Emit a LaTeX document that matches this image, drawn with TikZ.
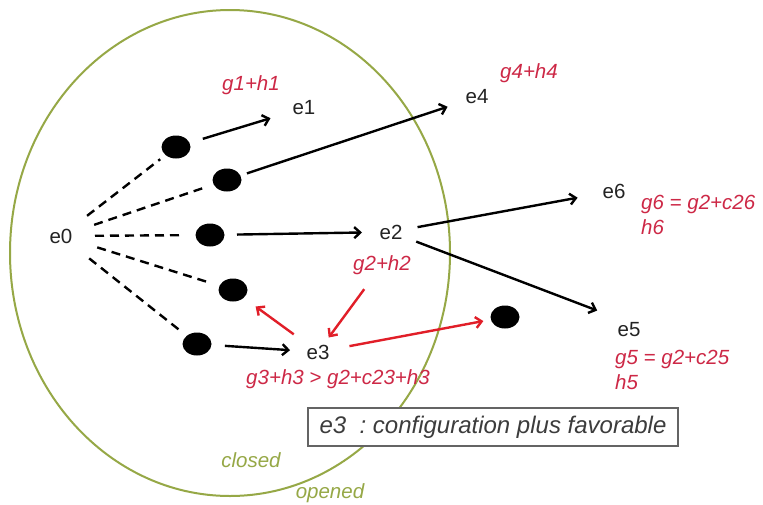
\documentclass[tikz,border=0pt]{standalone}
\usepackage{fontspec}
\setmainfont{Liberation Sans}
\usetikzlibrary{shapes.geometric,arrows.meta,calc}
\definecolor{redtxt}{RGB}{205,40,70}
\definecolor{redarr}{RGB}{225,30,40}
\definecolor{olv}{RGB}{150,168,70}
\definecolor{txt}{RGB}{35,35,35}
\definecolor{boxtxt}{RGB}{60,60,60}
\begin{document}
\begin{tikzpicture}[x=1pt,y=-1pt,
  lab/.style={font=\fontsize{20.5}{25}\selectfont, text=txt, inner sep=0pt},
  rlab/.style={font=\fontsize{20.5}{25}\selectfont\itshape, text=redtxt, inner sep=0pt},
  glab/.style={font=\fontsize{20.5}{25}\selectfont\itshape, text=olv, inner sep=0pt},
  dot/.style={ellipse, fill=black, minimum width=29pt, minimum height=23pt, inner sep=0pt},
  arr/.style={line width=2.4pt, draw=black, -{Straight Barb[length=6pt,width=11pt]}},
  rarr/.style={arr, draw=redarr},
  dsh/.style={line width=2.4pt, dash pattern=on 9pt off 6pt},
]
\useasboundingbox (0,0) rectangle (763,504);
\fill[white] (0,0) rectangle (763,504);
\draw[olv, line width=2pt] (230,253) ellipse [x radius=220pt, y radius=243pt];

% state labels
\node[lab] (e0) at (61,236) {e0};
\node[lab] (e1) at (304,108) {e1};
\node[lab] (e4) at (477,97) {e4};
\node[lab] (e2) at (391,232) {e2};
\node[lab] (e6) at (614,191) {e6};
\node[lab] (e5) at (629,330) {e5};
\node[lab] (e3) at (318,352) {e3};

% dots
\node[dot] (d1) at (176,147) {};
\node[dot] (d2) at (227,180) {};
\node[dot] (d3) at (210,235) {};
\node[dot] (d4) at (233,290) {};
\node[dot] (d5) at (197,344) {};
\node[dot] (d6) at (505,317) {};

% red labels
\node[rlab] (l1) at (251,85) {g1+h1};
\node[rlab] (l4) at (529,73) {g4+h4};
\node[rlab] (l2) at (382,265) {g2+h2};
\node[rlab] (l3) at (338,379) {g3+h3 > g2+c23+h3};
\node[rlab, anchor=west, align=left] (l6) at (641,215) {g6 = g2+c26\\h6};
\node[rlab, anchor=west, align=left] (l5) at (615,370) {g5 = g2+c25\\h5};

% closed / opened
\node[glab] (cl) at (251,460) {closed};
\node[glab] (op) at (330,493) {opened};

% box
\node[draw={rgb,255:red,100;green,100;blue,100}, line width=1.3pt, fill=white,
  minimum width=370pt, minimum height=38pt, inner sep=0pt,
  font=\fontsize{24}{28}\selectfont\itshape, text=boxtxt] (bx) at (493,427)
  {e3\ \ :\ configuration plus favorable};

% dashed lines from e0
\draw[dsh] ($(e0)!33pt!(d1)$) -- ($(d1)!20pt!(e0)$);
\draw[dsh] ($(e0)!35pt!(d2)$) -- ($(d2)!22pt!(e0)$);
\draw[dsh] ($(e0)!34pt!(d3)$) -- ($(d3)!28pt!(e0)$);
\draw[dsh] ($(e0)!38pt!(d4)$) -- ($(d4)!26pt!(e0)$);
\draw[dsh] ($(e0)!36pt!(d5)$) -- ($(d5)!20pt!(e0)$);

% black arrows
\draw[arr] ($(d1)!28pt!(e1)$) -- ($(e1)!35pt!(d1)$);
\draw[arr] ($(d2)!21pt!(e4)$) -- ($(e4)!31pt!(d2)$);
\draw[arr] ($(d3)!27pt!(e2)$) -- ($(e2)!29pt!(d3)$);
\draw[arr] ($(e2)!27pt!(e6)$) -- ($(e6)!37pt!(e2)$);
\draw[arr] ($(e2)!27pt!(e5.north)$) -- ($(e5.north)!34pt!(e2)$);
\draw[arr] ($(d5)!28pt!(e3)$) -- ($(e3)!28pt!(d5)$);

% red arrows
\draw[rarr] ($(e3)!30pt!(d4)$) -- ($(d4)!28pt!(e3)$);
\draw[rarr] ($(l2)!30pt!(e3)$) -- ($(e3)!18pt!(l2)$);
\draw[rarr] ($(e3)!32pt!(d6)$) -- ($(d6)!22pt!(e3)$);
\end{tikzpicture}
\end{document}
